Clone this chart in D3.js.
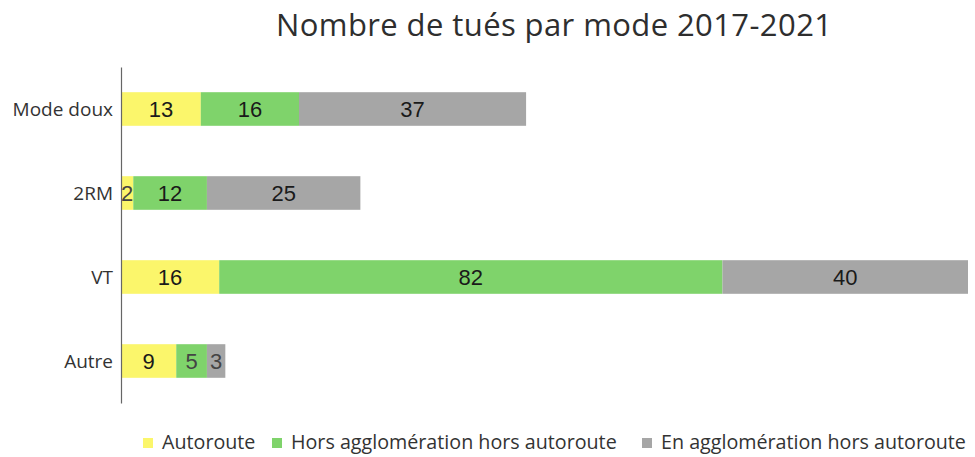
<!DOCTYPE html>
<html>
<meta charset="utf-8">
<style>
body { margin: 0; background: #fff; }
.cat { font-family: "Open Sans", sans-serif; font-size: 19px; fill: #333; }
.val { font-family: "Liberation Sans", Arial, sans-serif; font-size: 22px; fill: #1a1a1a; }
.leg { font-family: "Open Sans", sans-serif; font-size: 19.7px; fill: #333; }
</style>
<body>
<svg id="chart" width="975" height="457"></svg>
<script src="https://cdn.jsdelivr.net/npm/d3@7"></script>
<script>
var categories = ["Mode doux", "2RM", "VT", "Autre"];
var series = ["Autoroute", "Hors agglomération hors autoroute", "En agglomération hors autoroute"];
var autoroute = [13, 2, 16, 9];
var horsAgglo = [16, 12, 82, 5];
var enAgglo = [37, 25, 40, 3];
var colors = ["#fbf66b", "#7fd36b", "#a6a6a6"];

var svg = d3.select("#chart");

var rows = categories.map(function(c, i) {
  return { cat: c, Autoroute: autoroute[i], "Hors agglomération hors autoroute": horsAgglo[i], "En agglomération hors autoroute": enAgglo[i] };
});
var stacked = d3.stack().keys(series)(rows);

var x = d3.scaleLinear().domain([0, 138]).range([121, 968]);
var y = d3.scaleBand().domain(categories).range([67, 403]).paddingInner(0.6).paddingOuter(0.3);

svg.append("text")
  .attr("x", 554).attr("y", 36)
  .attr("text-anchor", "middle")
  .attr("textLength", 556)
  .style("font-family", "'Open Sans', sans-serif")
  .style("font-size", "31px")
  .style("fill", "#2e2e2e")
  .text("Nombre de tués par mode 2017-2021");

var layer = svg.selectAll("g.layer")
  .data(stacked)
  .enter().append("g")
    .attr("class", "layer")
    .attr("fill", function(d, i) { return colors[i]; });

layer.selectAll("rect")
  .data(function(d) { return d; })
  .enter().append("rect")
    .attr("x", function(d) { return x(d[0]); })
    .attr("width", function(d) { return x(d[1]) - x(d[0]); })
    .attr("y", function(d) { return y(d.data.cat); })
    .attr("height", y.bandwidth());

layer.selectAll("text")
  .data(function(d) { return d; })
  .enter().append("text")
    .attr("class", "val")
    .attr("x", function(d) { return (x(d[0]) + x(d[1])) / 2; })
    .attr("y", function(d) { return y(d.data.cat) + y.bandwidth() / 2 + 8; })
    .attr("text-anchor", "middle")
    .style("fill", function(d) { return (d[1] - d[0]) < 6 ? "#444" : null; })
    .text(function(d) { return d[1] - d[0]; });

// axe vertical
var yAxis = svg.append("g")
  .attr("transform", "translate(121,0)")
  .call(d3.axisLeft(y).tickSize(0).tickPadding(8));
yAxis.select(".domain").attr("stroke", "#666").attr("stroke-width", 1.2);
yAxis.selectAll("text").attr("class", "cat").attr("dy", "0.35em");

// legende
var legX = [143, 272, 642];
var leg = svg.selectAll("g.legend")
  .data(series)
  .enter().append("g")
    .attr("class", "legend")
    .attr("transform", function(d, i) { return "translate(" + legX[i] + ",438)"; });
leg.append("rect").attr("width", 10).attr("height", 10)
  .attr("fill", function(d, i) { return colors[i]; });
leg.append("text").attr("class", "leg")
  .attr("x", 19).attr("y", 10.5)
  .text(function(d) { return d; });
</script>
</body>
</html>
